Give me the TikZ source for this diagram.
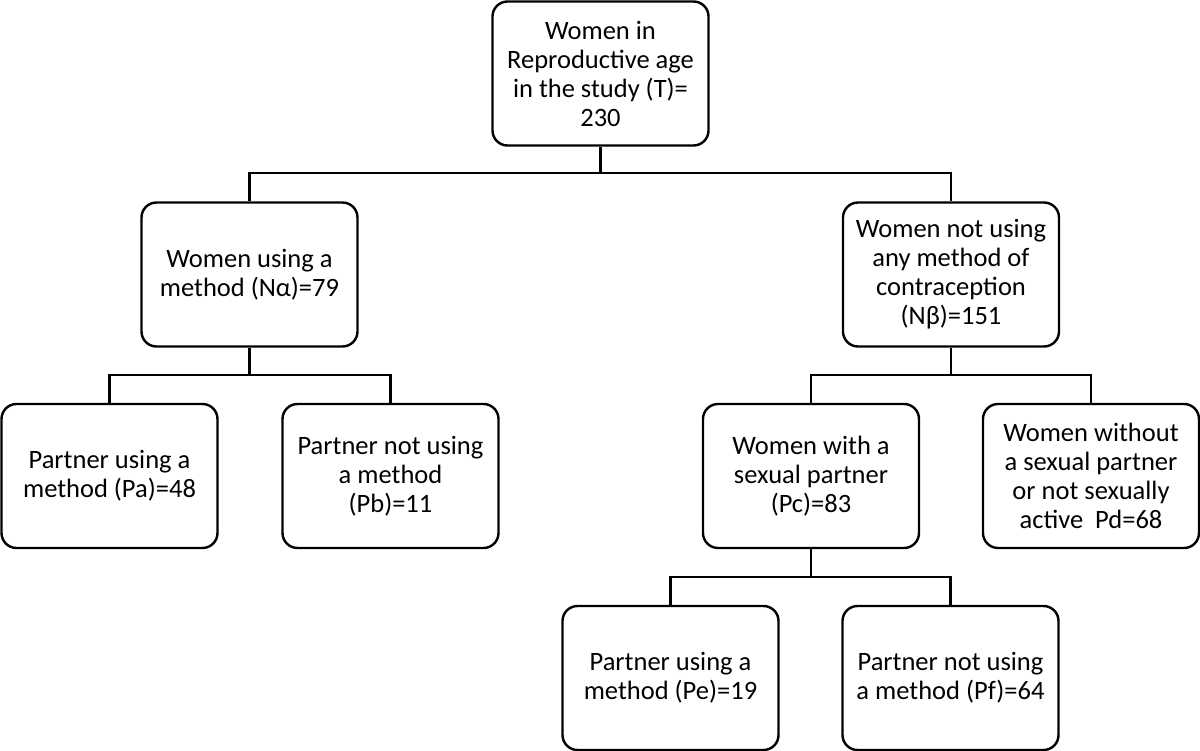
\documentclass[tikz,border=0pt]{standalone}
\usepackage{fontspec}
\setmainfont{Carlito}
\begin{document}
\begin{tikzpicture}[x=1pt,y=-1pt,
  box/.style={draw,line width=2.4pt,rounded corners=15pt,minimum width=216pt,minimum height=144pt,
    align=center,inner sep=2pt,font=\fontsize{26.5}{29}\selectfont},
  conn/.style={line width=2.4pt}]
\useasboundingbox (0,0) rectangle (1200,751);
\node[box] (T) at (600.5,73.5) {Women in\\Reproductive age\\in the study (T)=\\230};
\node[box] (A) at (249.5,274.5) {Women using a\\method (Nα)=79};
\node[box] (B) at (951,274.5) {Women not using\\any method of\\contraception\\(Nβ)=151};
\node[box] (Pa) at (109.5,476) {Partner using a\\method (Pa)=48};
\node[box] (Pb) at (390.5,476) {Partner not using\\a method\\(Pb)=11};
\node[box] (Pc) at (811,476) {Women with a\\sexual partner\\(Pc)=83};
\node[box] (Pd) at (1091,476) {Women without\\a sexual partner\\or not sexually\\active\ \ Pd=68};
\node[box] (Pe) at (670.5,678) {Partner using a\\method (Pe)=19};
\node[box] (Pf) at (950.5,678) {Partner not using\\a method (Pf)=64};
\coordinate (j1) at (600.5,173);
\coordinate (j2) at (249.5,375);
\coordinate (j3) at (951,375);
\coordinate (j4) at (811,577);
\draw[conn] (T.south) -- (j1);
\draw[conn] (A.north) |- (j1) -| (B.north);
\draw[conn] (A.south) -- (j2);
\draw[conn] (Pa.north) |- (j2) -| (Pb.north);
\draw[conn] (B.south) -- (j3);
\draw[conn] (Pc.north) |- (j3) -| (Pd.north);
\draw[conn] (Pc.south) -- (j4);
\draw[conn] (Pe.north) |- (j4) -| (Pf.north);
\end{tikzpicture}
\end{document}
